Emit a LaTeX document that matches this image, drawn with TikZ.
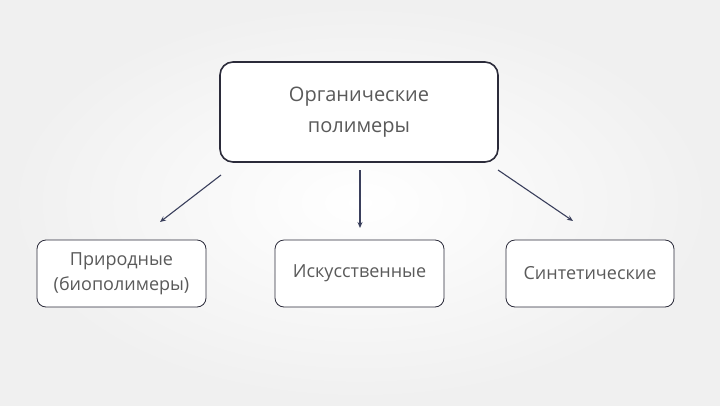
\documentclass[tikz,border=0pt]{standalone}
\usepackage{fontspec}
\setmainfont{Open Sans}
\usetikzlibrary{arrows.meta}
\definecolor{bord}{HTML}{2B2B3A}
\definecolor{txt}{HTML}{5A5A5A}
\definecolor{arr}{HTML}{3A3F5C}
\begin{document}
\begin{tikzpicture}[x=1pt,y=-1pt,
  box/.style={draw=bord,rounded corners=9pt,fill=white,text=txt,align=center,font=\fontsize{18}{25}\selectfont},
  conn/.style={draw=arr,line width=1.1pt,-{Stealth[length=6pt,width=5pt]}}]
\shade[inner color=white,outer color=gray!12] (0,0) rectangle (720,405);
\useasboundingbox (0,0) rectangle (720,405);
\node[box,line width=1.6pt,rounded corners=13pt,minimum width=278pt,minimum height=100pt,font=\fontsize{20}{31}\selectfont] (top) at (359,112) {Органические\\полимеры};
\node[box,line width=0.8pt,minimum width=169pt,minimum height=67pt] (l) at (121.5,273.5) {Природные\\(биополимеры)};
\node[box,line width=0.8pt,minimum width=169pt,minimum height=67pt] (m) at (359.5,273.5) {Искусственные};
\node[box,line width=0.8pt,minimum width=168pt,minimum height=67pt] (r) at (590,273.5) {Синтетические};
\coordinate (s1) at (221,175); \coordinate (e1) at (160,222);
\coordinate (s2) at (360,170); \coordinate (e2) at (360,228);
\coordinate (s3) at (498,170); \coordinate (e3) at (573,221);
\draw[conn] (s1) -- (e1);
\draw[conn] (s2) -- (e2);
\draw[conn] (s3) -- (e3);
\end{tikzpicture}
\end{document}
